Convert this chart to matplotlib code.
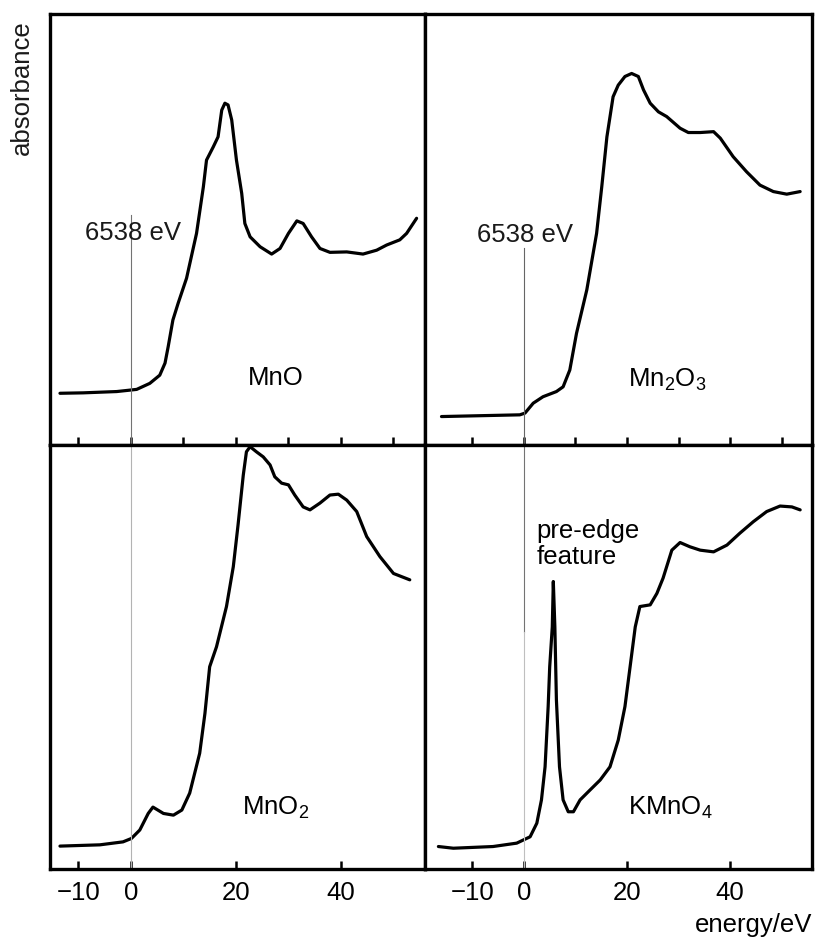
import matplotlib
matplotlib.use("Agg")
import matplotlib.pyplot as plt

plt.rcParams['font.family'] = ['Liberation Sans', 'DejaVu Sans']
plt.rcParams['mathtext.fontset'] = 'custom'
plt.rcParams['mathtext.rm'] = 'Liberation Sans'
plt.rcParams['mathtext.it'] = 'Liberation Sans:italic'

# Mn K-edge XANES spectra (energy relative to 6538 eV, absorbance in arbitrary units)
mno_e = [-13.5, -9.1, -2.7, 1.1, 3.6, 5.5, 6.5, 7.1, 8.0, 9.0, 10.6, 12.5, 13.8, 14.4,
         15.7, 16.6, 17.3, 17.9, 18.5, 19.2, 20.1, 21.1, 21.7, 22.7, 24.6, 26.8, 28.4,
         30.0, 31.6, 32.8, 34.4, 36.0, 37.9, 41.1, 44.2, 46.8, 48.7, 51.2, 52.5, 54.4]
mno_a = [12.0, 12.1, 12.4, 12.9, 14.3, 16.2, 19.0, 22.8, 29.0, 32.9, 38.7, 49.1, 59.9, 66.1,
         69.2, 71.5, 77.7, 79.3, 78.9, 75.4, 66.1, 58.4, 51.4, 48.3, 46.0, 44.3, 45.6,
         49.1, 52.0, 51.4, 48.3, 45.6, 44.7, 44.8, 44.3, 45.2, 46.4, 47.6, 49.1, 52.6]

mn2o3_e = [-16.0, -0.8, 0.2, 1.8, 3.7, 6.3, 7.6, 8.9, 10.2, 12.2, 14.1, 15.1, 16.1, 17.3,
           18.3, 19.6, 20.9, 22.2, 23.2, 24.5, 26.1, 27.7, 30.3, 31.9, 34.2, 36.8, 38.1,
           40.6, 43.2, 45.8, 48.4, 51.0, 53.6]
mn2o3_a = [6.6, 7.0, 7.4, 9.7, 11.2, 12.4, 13.5, 17.4, 25.9, 36.0, 49.1, 59.9, 71.5, 80.8,
           83.5, 85.5, 86.2, 85.5, 82.4, 79.3, 77.3, 76.2, 73.5, 72.5, 72.5, 72.7, 71.2,
           66.9, 63.4, 60.3, 58.8, 58.2, 58.8]

mno2_e = [-13.5, -5.9, -1.5, 0.1, 1.7, 3.3, 4.2, 6.2, 8.1, 9.7, 11.2, 13.1, 14.1, 15.0,
          16.3, 18.2, 19.5, 20.4, 21.4, 22.0, 22.7, 23.9, 25.2, 26.5, 27.4, 28.7, 30.0,
          31.2, 32.8, 34.1, 36.0, 37.9, 39.5, 41.1, 43.0, 44.9, 47.4, 50.0, 53.1]
mno2_a = [5.4, 5.7, 6.4, 7.2, 9.2, 13.1, 14.6, 13.1, 12.7, 13.9, 17.9, 27.3, 36.7, 47.7,
          52.4, 61.9, 71.3, 81.1, 92.9, 98.4, 99.6, 98.4, 97.2, 95.3, 92.5, 91.0, 90.6,
          88.2, 85.4, 84.7, 86.3, 88.2, 88.4, 87.0, 84.3, 78.4, 73.7, 69.7, 68.2]

kmno4_e = [-16.6, -13.7, -6.0, -1.4, 0.5, 1.2, 2.5, 3.4, 4.1, 4.7, 5.0, 5.5, 5.7, 6.0,
           6.3, 6.9, 7.6, 8.6, 9.6, 10.9, 12.8, 14.8, 16.7, 18.3, 19.6, 20.6, 21.6, 22.5,
           24.5, 25.8, 27.0, 28.7, 30.3, 32.2, 34.2, 36.8, 39.4, 41.9, 44.5, 47.1, 49.7,
           52.0, 53.6]
kmno4_a = [5.3, 4.9, 5.3, 6.1, 7.2, 7.6, 10.8, 16.3, 24.1, 38.3, 47.7, 57.1, 67.8, 57.1,
           39.9, 24.1, 16.3, 13.5, 13.5, 16.3, 18.6, 21.0, 24.1, 30.4, 38.3, 47.7, 57.1, 61.9,
           62.3, 65.0, 68.6, 75.2, 77.0, 76.0, 75.2, 74.8, 76.4, 79.2, 81.9, 84.3, 85.6,
           85.4, 84.7]

fig = plt.figure(figsize=(8.16, 9.39), dpi=100)

# axes rectangles in figure fractions (2x2, no gaps)
left_x, left_w = 50 / 816, 375 / 816
right_x, right_w = 425 / 816, 387 / 816
top_y, top_h = 1 - 445 / 939, 431 / 939
bot_y, bot_h = 1 - 869 / 939, 424 / 939

ax_tl = fig.add_axes([left_x, top_y, left_w, top_h])
ax_tr = fig.add_axes([right_x, top_y, right_w, top_h])
ax_bl = fig.add_axes([left_x, bot_y, left_w, bot_h])
ax_br = fig.add_axes([right_x, bot_y, right_w, bot_h])

fs = 18.5
for ax, xlim in [(ax_tl, (-15.4, 56.0)), (ax_bl, (-15.4, 56.0)),
                 (ax_tr, (-19.2, 55.9)), (ax_br, (-19.2, 55.9))]:
    ax.set_xlim(*xlim)
    ax.set_ylim(0, 100)
    ax.set_yticks([])
    for s in ax.spines.values():
        s.set_linewidth(2.4)
    ax.tick_params(axis='x', direction='in', length=6, width=1.8, pad=9,
                   labelsize=fs, top=False)

for ax in (ax_tl, ax_tr):
    ax.set_xticks([-10, 0, 10, 20, 30, 40, 50])
    ax.tick_params(axis='x', labelbottom=False)
for ax in (ax_bl, ax_br):
    ax.set_xticks([-10, 0, 20, 40])

lw = 2.3
style = dict(color='black', lw=lw, solid_joinstyle='round', solid_capstyle='round')
ax_tl.plot(mno_e, mno_a, **style)
ax_tr.plot(mn2o3_e, mn2o3_a, **style)
ax_bl.plot(mno2_e, mno2_a, **style)
ax_br.plot(kmno4_e, kmno4_a, **style)

# edge position markers at 6538 eV
ax_tl.plot([0, 0], [0, 53.4], color='0.45', lw=0.8)
ax_tr.plot([0, 0], [0, 45.7], color='0.4', lw=0.8)
ax_bl.plot([0, 0], [0, 100], color='0.7', lw=0.8)
ax_br.plot([0, 0], [56, 100], color='0.45', lw=0.8)
ax_br.plot([0, 0], [0, 56], color='0.75', lw=0.8)

ax_tl.text(-8.8, 49.2, "6538 eV", fontsize=fs, ha='left', va='center', color='0.1')
ax_tr.text(-9.2, 48.7, "6538 eV", fontsize=fs, ha='left', va='center', color='0.1')

ax_tl.text(22.3, 15.5, "MnO", fontsize=fs, ha='left', va='center')
ax_tr.text(20.2, 15.1, r"Mn$_2$O$_3$", fontsize=fs, ha='left', va='center')
ax_bl.text(21.1, 14.4, r"MnO$_2$", fontsize=fs, ha='left', va='center')
ax_br.text(20.2, 14.4, r"KMnO$_4$", fontsize=fs, ha='left', va='center')
ax_br.text(2.5, 82.5, "pre-edge\nfeature", fontsize=fs, ha='left', va='top', linespacing=1.1)

fig.text(22 / 816, 1 - 88 / 939, "absorbance", rotation=90, fontsize=fs,
         ha='center', va='center', color='0.1')
fig.text(812 / 816, 1 - 925 / 939, "energy/eV", fontsize=fs, ha='right', va='center')

fig.savefig("out.png", dpi=100)
